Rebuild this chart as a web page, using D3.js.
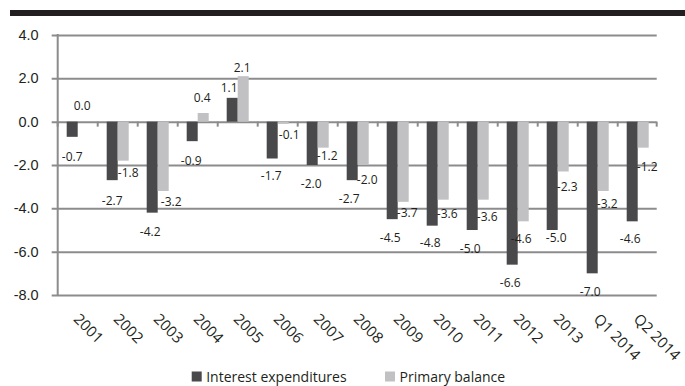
<!DOCTYPE html>
<html><head><meta charset="utf-8">
<script src="https://cdn.jsdelivr.net/npm/d3@7"></script>
<style>
html,body{margin:0;padding:0;background:#fff;}
svg{display:block;font-family:"Open Sans",sans-serif;}
</style></head><body>
<svg id="chart" width="685" height="386"></svg>
<script>
const categories = ["2001","2002","2003","2004","2005","2006","2007","2008","2009","2010","2011","2012","2013","Q1 2014","Q2 2014"];
const interestExpenditures = [-0.7,-2.7,-4.2,-0.9,1.1,-1.7,-2.0,-2.7,-4.5,-4.8,-5.0,-6.6,-5.0,-7.0,-4.6];
const primaryBalance = [0.0,-1.8,-3.2,0.4,2.1,-0.1,-1.2,-2.0,-3.7,-3.6,-3.6,-4.6,-2.3,-3.2,-1.2];
const yTicks = [4,2,0,-2,-4,-6,-8];
const seriesNames = ["Interest expenditures","Primary balance"];

// Value-label placement (px): gap between bar end and label centre, sideways shift
const interestLabelGap = [20,20,19,19,10,17,18,18,18,17,18,18,7,18,17];
const interestLabelShift = [0,0,-2,-1,-3,-1,-1,-3,-2,-2,-2,-2,4,-2,-2];
const primaryLabelGap = [16,12,10,16,9,11,8,14,11,14,17,17,14.5,12,19];
const primaryLabelShift = [-1,5,8,-1,-1,6,4,4,4,4,4,-2,4,4,4];

const colors = ["#49494b","#c1c1c3"];
const ink = "#231f20";
const gridColor = "#8c8c8e";

// one decimal, plain hyphen for negatives
const fmt = d3.formatLocale({decimal:".", thousands:",", grouping:[3], currency:["",""], minus:"-"}).format(".1f");

const svg = d3.select("#chart");

// heavy rule across the top
svg.append("rect").attr("x",10).attr("y",10).attr("width",675).attr("height",6).attr("fill",ink);

const plot = {left:57.7, right:657.7, top:35, bottom:295};

const x = d3.scaleBand().domain(categories).range([plot.left, plot.right]).padding(0);
const xs = d3.scaleBand().domain(seriesNames).range([9, 31]).padding(0);
const y = d3.scaleLinear().domain([-8,4]).range([plot.bottom, plot.top]);

// horizontal gridlines with short ticks on the left
const yAxis = d3.axisLeft(y).tickValues(yTicks).tickFormat(fmt)
  .tickSize(-(plot.right - 1 - plot.left)).tickPadding(13);
const gy = svg.append("g").attr("transform",`translate(${plot.left},0)`).call(yAxis);
gy.select(".domain").remove();
gy.selectAll(".tick line").attr("x1",-6).attr("stroke",gridColor).attr("stroke-width",2);
gy.selectAll(".tick text").attr("fill",ink).style("font-size","14.5px").attr("x",-19);

// left axis line
svg.append("line").attr("x1",plot.left).attr("x2",plot.left)
  .attr("y1",plot.top-1).attr("y2",plot.bottom+1)
  .attr("stroke",gridColor).attr("stroke-width",2);

// zero line with category ticks
const boundaries = categories.map(c => x(c)).concat([plot.right - 1]);
svg.append("g").selectAll("line").data(boundaries).join("line")
  .attr("x1",d=>d).attr("x2",d=>d).attr("y1",y(0)).attr("y2",y(0)+5)
  .attr("stroke",gridColor).attr("stroke-width",2);

// bars
const rows = categories.map((c,i)=>({cat:c, values:[interestExpenditures[i], primaryBalance[i]], i}));
const groups = svg.append("g").selectAll("g").data(rows).join("g")
  .attr("transform",d=>`translate(${x(d.cat)},0)`);
groups.selectAll("rect").data(d=>d.values.map((v,k)=>({v,k}))).join("rect")
  .attr("x",d=>xs(seriesNames[d.k]))
  .attr("width",xs.bandwidth())
  .attr("y",d=>y(Math.max(0,d.v)))
  .attr("height",d=>Math.abs(y(d.v)-y(0)))
  .attr("fill",d=>colors[d.k]);

// value labels
const gaps = [interestLabelGap, primaryLabelGap];
const shifts = [interestLabelShift, primaryLabelShift];
const labels = svg.append("g").style("font-size","12px").attr("fill",ink);
rows.forEach(r=>{
  r.values.forEach((v,k)=>{
    const cx = x(r.cat) + xs(seriesNames[k]) + xs.bandwidth()/2 + shifts[k][r.i];
    const cy = v >= 0 ? y(v) - gaps[k][r.i] : y(v) + gaps[k][r.i];
    labels.append("text").attr("x",cx).attr("y",cy)
      .attr("text-anchor","middle").attr("dominant-baseline","central")
      .text(fmt(v));
  });
});

// rotated category labels
svg.append("g").selectAll("text").data(categories).join("text")
  .attr("transform",d=>`translate(${x(d)+x.bandwidth()/2-5},320) rotate(45)`)
  .attr("fill",ink).style("font-size","15px")
  .text(d=>d);

// legend
const legend = svg.append("g");
const legendX = [191.7, 385];
seriesNames.forEach((n,k)=>{
  legend.append("rect").attr("x",legendX[k]).attr("y",371.5).attr("width",10).attr("height",10).attr("fill",colors[k]);
  legend.append("text").attr("x",legendX[k]+14.5).attr("y",381.5).attr("fill",ink).style("font-size","14px").text(n);
});
</script>
</body></html>
